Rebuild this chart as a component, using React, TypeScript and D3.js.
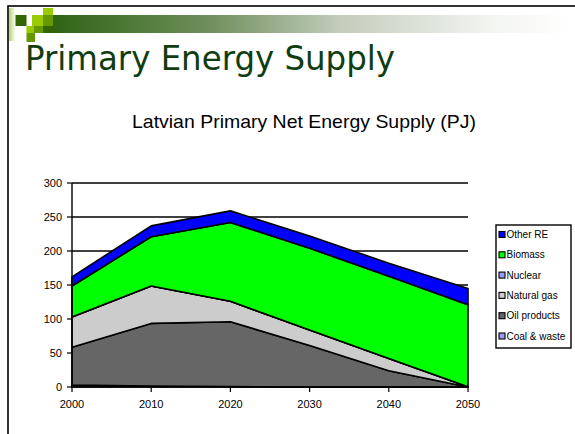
import React from "react";
import * as d3 from "d3";

const years = [2000, 2010, 2020, 2030, 2040, 2050];
const coalWaste = [3, 1.5, 0.5, 0, 0, 0];
const oilProducts = [55.5, 92, 95.5, 61, 24, 0];
const naturalGas = [44.5, 55, 30, 23, 18, 0.5];
const nuclear = [0, 0, 0, 0, 0, 0];
const biomass = [45.5, 72.5, 116, 120, 121, 120.5];
const otherRE = [13.5, 16, 17, 18, 19, 24];

const seriesNames = ["Coal & waste", "Oil products", "Natural gas", "Nuclear", "Biomass", "Other RE"];
const seriesValues = [coalWaste, oilProducts, naturalGas, nuclear, biomass, otherRE];
const seriesColors = ["#9999FF", "#666666", "#CCCCCC", "#9999FF", "#00FF00", "#0000FF"];
const yTicks = [0, 50, 100, 150, 200, 250, 300];

export default function App() {
  const W = 575, H = 434;
  const x = d3.scaleLinear().domain([2000, 2050]).range([72, 468]);
  const y = d3.scaleLinear().domain([0, 300]).range([387, 183]);

  const rows = years.map((yr, i) => {
    const r: any = { year: yr };
    seriesNames.forEach((n, k) => (r[n] = seriesValues[k][i]));
    return r;
  });
  const stacked = d3.stack().keys(seriesNames)(rows);
  const area = d3
    .area<any>()
    .x((d) => x(d.data.year))
    .y0((d) => y(d[0]))
    .y1((d) => y(d[1]));

  const legendNames = [...seriesNames].reverse();
  const legendColors = [...seriesColors].reverse();

  return (
    <svg
      width={W}
      height={H}
      style={{ position: "absolute", left: 0, top: 0, background: "#fff" }}
      fontFamily="'Liberation Sans', Arial, sans-serif"
    >
      <defs>
        <linearGradient id="band" x1="0" x2="1" y1="0" y2="0">
          <stop offset="0" stopColor="#2F6414" />
          <stop offset="0.3" stopColor="#6F8F5C" />
          <stop offset="0.55" stopColor="#C3CDBC" />
          <stop offset="0.85" stopColor="#F4F6F2" />
          <stop offset="1" stopColor="#FFFFFF" />
        </linearGradient>
        <linearGradient id="strip" x1="0" x2="1" y1="0" y2="0">
          <stop offset="0" stopColor="#B5D36A" />
          <stop offset="1" stopColor="#FFFFFF" />
        </linearGradient>
      </defs>
      <rect x={0} y={0} width={W} height={H} fill="#fff" />
      <rect x={8} y={6} width={W} height={H} fill="none" stroke="#000" strokeWidth={1.6} />
      <rect x={53} y={15} width={W - 53} height={18} fill="url(#band)" />
      <rect x={9} y={8} width={6.5} height={33} fill="url(#strip)" />
      <rect x={15.5} y={15} width={11} height={11} fill="#336600" />
      <rect x={32} y={15} width={11} height={11} fill="#99CC00" />
      <rect x={43} y={8} width={10} height={7} fill="#99CC00" />
      <rect x={43} y={15} width={10} height={11} fill="#669900" />
      <rect x={26.5} y={26} width={7} height={7} fill="#99CC00" />
      <rect x={33.5} y={26} width={9.5} height={7} fill="#669900" />
      <rect x={43} y={26} width={10} height={7} fill="#336600" />
      <rect x={26.5} y={33} width={8.5} height={9} fill="#669900" />
      <text
        x={25}
        y={70}
        fontFamily="'DejaVu Sans', Verdana, sans-serif"
        fontSize={34}
        fill="#0F3D0F"
        textLength={370}
        lengthAdjust="spacingAndGlyphs"
      >
        Primary Energy Supply
      </text>
      <text x={132} y={127.5} fontSize={18.5} fill="#000" textLength={344} lengthAdjust="spacingAndGlyphs">
        Latvian Primary Net Energy Supply (PJ)
      </text>
      {yTicks.slice(1).map((t) => (
        <line key={t} x1={72} x2={468} y1={y(t)} y2={y(t)} stroke="#000" strokeWidth={1.4} />
      ))}
      {stacked.map((s, k) => (
        <path
          key={s.key}
          d={area(s as any) || ""}
          fill={seriesColors[k]}
          stroke="#000"
          strokeWidth={1.6}
          strokeLinejoin="round"
        />
      ))}
      <line x1={72} x2={72} y1={183} y2={388} stroke="#000" strokeWidth={1.4} />
      <line x1={71} x2={468} y1={387} y2={387} stroke="#000" strokeWidth={1.4} />
      {yTicks.map((t) => (
        <g key={t}>
          <line x1={67} x2={72} y1={y(t)} y2={y(t)} stroke="#000" strokeWidth={1.2} />
          <text x={62} y={y(t) + 4} textAnchor="end" fontSize={11} fill="#000">
            {t}
          </text>
        </g>
      ))}
      {years.map((yr) => (
        <g key={yr}>
          <line x1={x(yr)} x2={x(yr)} y1={387} y2={392} stroke="#000" strokeWidth={1.2} />
          <text x={x(yr)} y={408} textAnchor="middle" fontSize={11} fill="#000">
            {yr}
          </text>
        </g>
      ))}
      <rect x={496} y={225} width={75} height={123} fill="#fff" stroke="#000" strokeWidth={1.4} />
      {legendNames.map((n, i) => {
        const cy = 234.5 + i * 20.3;
        return (
          <g key={n}>
            <rect x={499} y={cy - 3} width={6} height={6} fill={legendColors[i]} stroke="#000" strokeWidth={1.1} />
            <text x={506.5} y={cy + 3.5} fontSize={10} fill="#000">
              {n}
            </text>
          </g>
        );
      })}
    </svg>
  );
}
